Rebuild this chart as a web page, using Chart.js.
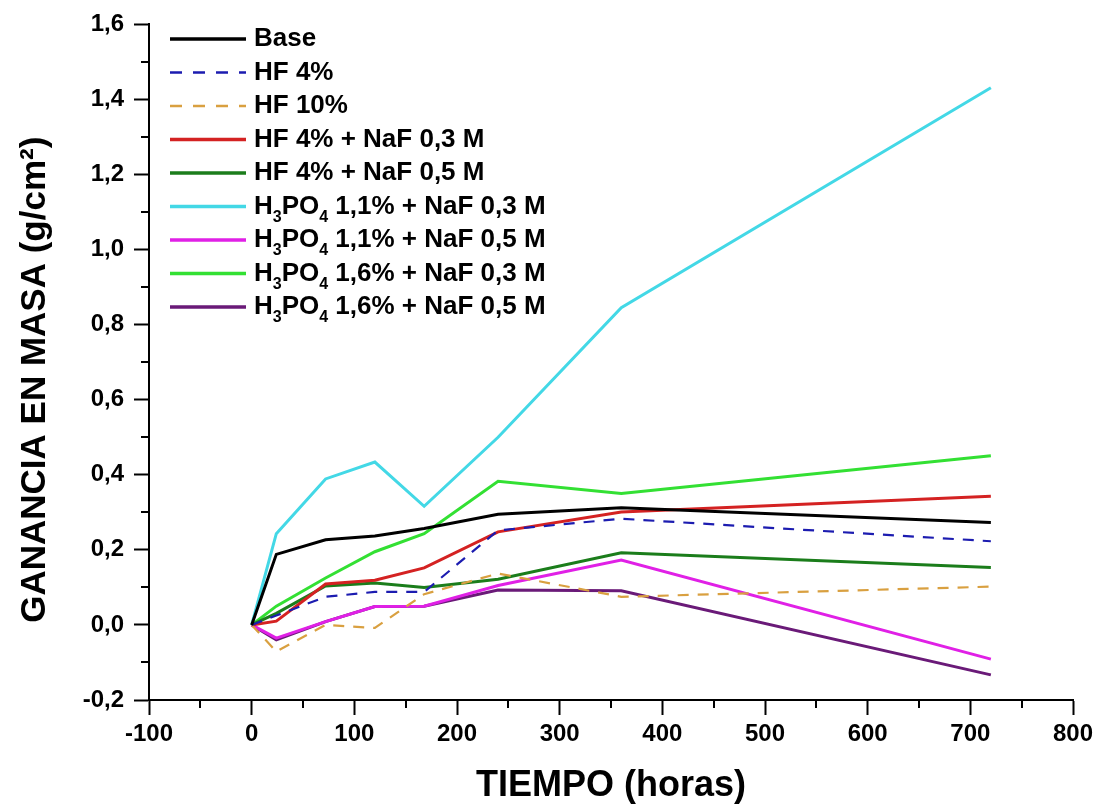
<!DOCTYPE html>
<html>
<head>
<meta charset="utf-8">
<script src="https://cdn.jsdelivr.net/npm/chart.js@4.4.0/dist/chart.umd.min.js"></script>
<style>
  html, body { margin: 0; padding: 0; background: #fff; }
  #wrap { width: 1103px; height: 804px; }
</style>
</head>
<body>
<div id="wrap"><canvas id="chart"></canvas></div>
<script>
// time (hours) and mass gain (g/cm2)
var hours = [0, 24, 72, 120, 168, 240, 360, 720];
var base = [0, 0.188, 0.227, 0.237, 0.257, 0.295, 0.312, 0.273];
var hf4 = [0, 0.025, 0.075, 0.088, 0.088, 0.252, 0.283, 0.223];
var hf10 = [0, -0.071, 0.0, -0.008, 0.082, 0.137, 0.075, 0.102];
var hf4Naf03 = [0, 0.01, 0.109, 0.119, 0.152, 0.248, 0.301, 0.343];
var hf4Naf05 = [0, 0.031, 0.104, 0.112, 0.1, 0.122, 0.192, 0.153];
var h3po411Naf03 = [0, 0.243, 0.389, 0.434, 0.316, 0.5, 0.845, 1.431];
var h3po411Naf05 = [0, -0.035, 0.009, 0.049, 0.05, 0.105, 0.173, -0.091];
var h3po416Naf03 = [0, 0.05, 0.125, 0.195, 0.243, 0.383, 0.35, 0.451];
var h3po416Naf05 = [0, -0.04, 0.009, 0.049, 0.05, 0.093, 0.091, -0.133];

var seriesNames = [
  "Base", "HF 4%", "HF 10%", "HF 4% + NaF 0,3 M", "HF 4% + NaF 0,5 M",
  "H\u2083PO\u2084 1,1% + NaF 0,3 M", "H\u2083PO\u2084 1,1% + NaF 0,5 M",
  "H\u2083PO\u2084 1,6% + NaF 0,3 M", "H\u2083PO\u2084 1,6% + NaF 0,5 M"
];
var seriesValues = [base, hf4, hf10, hf4Naf03, hf4Naf05, h3po411Naf03, h3po411Naf05, h3po416Naf03, h3po416Naf05];
var seriesColors = ["#000000", "#1c1cb0", "#d9a040", "#d42222", "#1b7d1b", "#43d8e6", "#e020e6", "#33e033", "#6a1a78"];
var seriesDash = [[], [11, 9], [11, 9], [], [], [], [], [], []];

var xMin = -100, xMax = 800, xStep = 100;
var yMin = -0.2, yMax = 1.6, yStep = 0.2;

var FONT = "'Liberation Sans', Arial, sans-serif";

var datasets = seriesNames.map(function (name, i) {
  return {
    label: name,
    data: hours.map(function (h, j) { return { x: h, y: seriesValues[i][j] }; }),
    borderColor: seriesColors[i],
    backgroundColor: seriesColors[i],
    borderWidth: seriesDash[i].length ? 2.2 : 3,
    borderDash: seriesDash[i],
    pointRadius: 0,
    tension: 0,
    fill: false
  };
});

// minor ticks between the labelled ones
var minorTicks = {
  id: "minorTicks",
  afterDraw: function (chart) {
    var ctx = chart.ctx, xs = chart.scales.x, ys = chart.scales.y;
    ctx.save();
    ctx.strokeStyle = "#000";
    ctx.lineWidth = 2;
    ctx.beginPath();
    for (var v = xMin + xStep / 2; v < xMax; v += xStep) {
      var px = Math.round(xs.getPixelForValue(v));
      ctx.moveTo(px, ys.bottom);
      ctx.lineTo(px, ys.bottom + 8);
    }
    for (var k = 0; k < 9; k++) {
      var py = Math.round(ys.getPixelForValue(yMin + yStep / 2 + k * yStep));
      ctx.moveTo(xs.left, py);
      ctx.lineTo(xs.left - 8, py);
    }
    ctx.stroke();
    ctx.restore();
  }
};

// legend in the top-left corner of the plot, with real subscripts
var insideLegend = {
  id: "insideLegend",
  afterDraw: function (chart) {
    var ctx = chart.ctx, area = chart.chartArea;
    var x0 = area.left + 21, x1 = x0 + 76, tx = x1 + 8;
    var y = 39, step = 33.5;
    ctx.save();
    ctx.textBaseline = "middle";
    chart.data.datasets.forEach(function (ds) {
      ctx.strokeStyle = ds.borderColor;
      ctx.lineWidth = ds.borderDash.length ? 2.5 : 3.5;
      ctx.setLineDash(ds.borderDash.length ? [12, 11] : []);
      ctx.beginPath();
      ctx.moveTo(x0, y);
      ctx.lineTo(x1, y);
      ctx.stroke();
      ctx.setLineDash([]);
      ctx.fillStyle = "#000";
      var cx = tx;
      for (var i = 0; i < ds.label.length; i++) {
        var ch = ds.label[i];
        var code = ch.charCodeAt(0);
        if (code >= 0x2080 && code <= 0x2089) {
          ctx.font = "bold 16px " + FONT;
          var d = String.fromCharCode(48 + code - 0x2080);
          ctx.fillText(d, cx, y + 11);
          cx += ctx.measureText(d).width;
        } else {
          ctx.font = "bold 26px " + FONT;
          ctx.fillText(ch, cx, y);
          cx += ctx.measureText(ch).width;
        }
      }
      y += step;
    });
    ctx.restore();
  }
};

new Chart(document.getElementById("chart"), {
  type: "line",
  data: { datasets: datasets },
  options: {
    responsive: true,
    maintainAspectRatio: false,
    animation: false,
    layout: { padding: { top: 20, right: 30, bottom: 0, left: 0 } },
    plugins: { legend: { display: false }, tooltip: { enabled: false } },
    scales: {
      x: {
        type: "linear",
        min: xMin, max: xMax,
        afterFit: function (scale) { scale.height = 104; },
        ticks: {
          stepSize: xStep,
          color: "#000",
          padding: 5,
          font: { family: FONT, size: 24, weight: "bold" }
        },
        grid: { drawOnChartArea: false, tickLength: 15, tickColor: "#000", tickWidth: 2 },
        border: { display: true, color: "#000", width: 2 },
        title: {
          display: true,
          text: "TIEMPO (horas)",
          color: "#000",
          font: { family: FONT, size: 36, weight: "bold" },
          padding: { top: 0, bottom: -4 }
        }
      },
      y: {
        min: yMin, max: yMax,
        afterFit: function (scale) { scale.width = 149; },
        ticks: {
          stepSize: yStep,
          color: "#000",
          padding: 10,
          font: { family: FONT, size: 24, weight: "bold" },
          callback: function (v) { return v.toFixed(1).replace(".", ","); }
        },
        grid: { drawOnChartArea: false, tickLength: 15, tickColor: "#000", tickWidth: 2 },
        border: { display: true, color: "#000", width: 2 },
        title: {
          display: true,
          text: "GANANCIA EN MASA (g/cm\u00b2)\u2003",
          color: "#000",
          font: { family: FONT, size: 35, weight: "bold" },
          padding: { top: 14, bottom: 0 }
        }
      }
    }
  },
  plugins: [minorTicks, insideLegend]
});
</script>
</body>
</html>
